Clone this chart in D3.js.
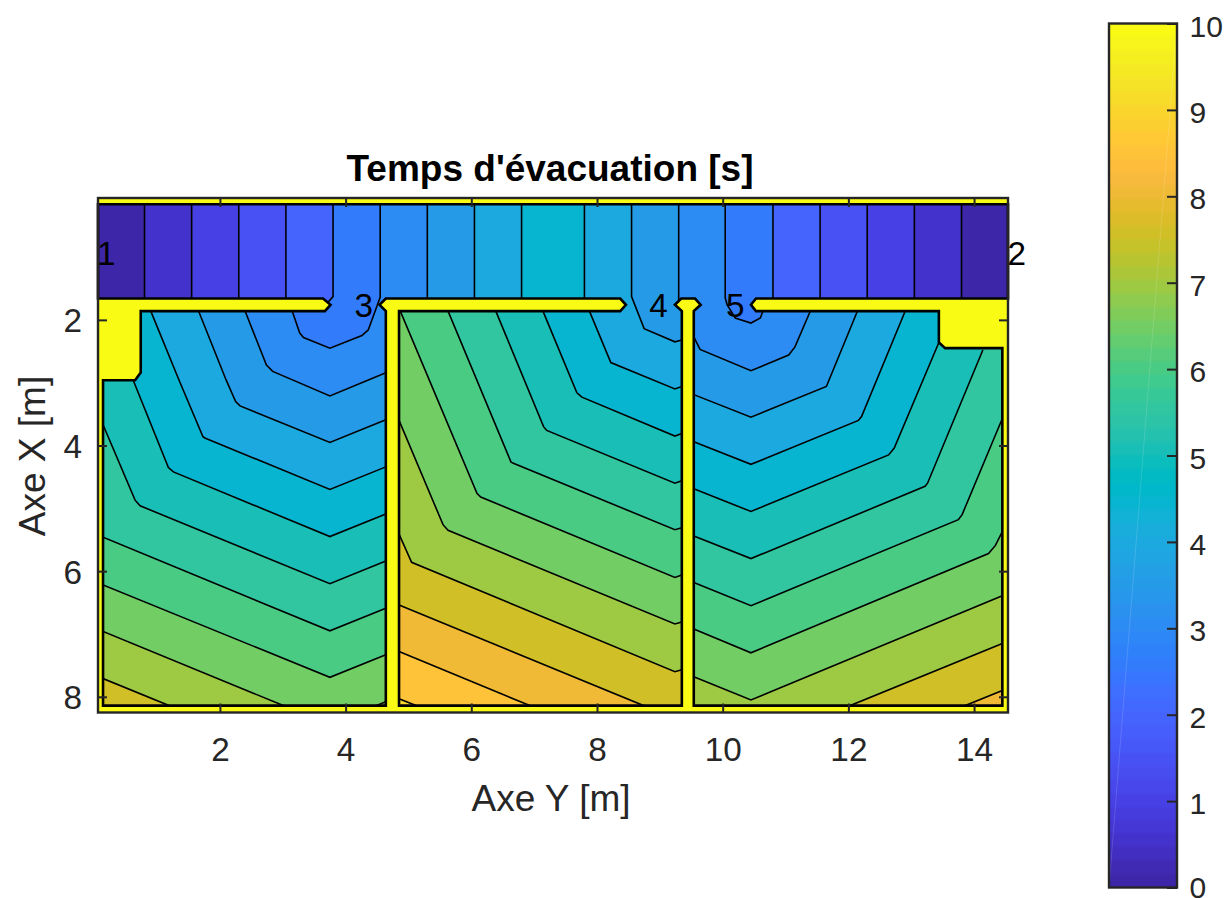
<!DOCTYPE html>
<html>
<head>
<meta charset="utf-8">
<script src="https://cdn.jsdelivr.net/npm/d3@7"></script>
<style>
body{margin:0;background:#fff;}
svg{display:block;font-family:"Liberation Sans",Arial,sans-serif;}
</style>
</head>
<body>
<svg id="chart" width="1227" height="898"></svg>
<script>
//parula, 64 steps
var parula = [[0.2422,0.1504,0.6603],[0.2504,0.1650,0.7076],[0.2578,0.1818,0.7511],[0.2647,0.1978,0.7952],
[0.2706,0.2147,0.8364],[0.2751,0.2342,0.8710],[0.2783,0.2559,0.8991],[0.2803,0.2782,0.9221],
[0.2813,0.3006,0.9414],[0.2810,0.3228,0.9579],[0.2795,0.3447,0.9717],[0.2760,0.3667,0.9829],
[0.2699,0.3892,0.9906],[0.2602,0.4123,0.9952],[0.2440,0.4358,0.9988],[0.2206,0.4603,0.9973],
[0.1963,0.4847,0.9892],[0.1834,0.5074,0.9798],[0.1786,0.5289,0.9682],[0.1764,0.5499,0.9520],
[0.1687,0.5703,0.9359],[0.1540,0.5902,0.9218],[0.1460,0.6091,0.9079],[0.1380,0.6276,0.8973],
[0.1259,0.6459,0.8883],[0.1111,0.6635,0.8763],[0.0953,0.6798,0.8598],[0.0689,0.6948,0.8394],
[0.0297,0.7082,0.8163],[0.0036,0.7203,0.7917],[0.0067,0.7312,0.7660],[0.0433,0.7411,0.7394],
[0.0964,0.7500,0.7120],[0.1408,0.7584,0.6842],[0.1717,0.7670,0.6554],[0.1938,0.7758,0.6251],
[0.2161,0.7843,0.5923],[0.2470,0.7918,0.5567],[0.2906,0.7973,0.5188],[0.3406,0.8008,0.4789],
[0.3909,0.8029,0.4354],[0.4456,0.8024,0.3909],[0.5044,0.7993,0.3480],[0.5616,0.7942,0.3045],
[0.6174,0.7876,0.2612],[0.6720,0.7793,0.2227],[0.7242,0.7698,0.1910],[0.7738,0.7598,0.1646],
[0.8203,0.7498,0.1535],[0.8634,0.7406,0.1596],[0.9035,0.7330,0.1774],[0.9393,0.7288,0.2100],
[0.9728,0.7298,0.2394],[0.9956,0.7434,0.2371],[0.9970,0.7659,0.2199],[0.9952,0.7893,0.2028],
[0.9892,0.8136,0.1885],[0.9786,0.8386,0.1766],[0.9676,0.8639,0.1643],[0.9610,0.8890,0.1537],
[0.9597,0.9135,0.1423],[0.9628,0.9373,0.1265],[0.9691,0.9606,0.1064],[0.9769,0.9839,0.0805]];

var yTicks = [2,4,6,8,10,12,14];
var xTicks = [2,4,6,8];
var barTicks = [0,1,2,3,4,5,6,7,8,9,10];

//door names, [Y, X] in metres
var doorNames = ["1","2","3","4","5"];
var doorPlaces = [[0.19,1.13],[14.68,1.13],[4.29,1.95],[8.98,1.95],[10.20,1.95]];

//walkable area of the building, [Y, X] in metres
var floorPlan = [[0.06,0.16],[14.54,0.16],[14.54,1.66],[10.53,1.66],[10.45,1.76],[10.53,1.86],
[13.44,1.86],[13.44,2.36],[13.54,2.45],[14.45,2.45],[14.45,8.14],[9.54,8.14],[9.54,1.86],
[9.65,1.76],[9.56,1.66],[9.34,1.66],[9.24,1.76],[9.35,1.86],[9.35,8.14],[4.85,8.14],[4.85,1.86],
[8.37,1.86],[8.46,1.76],[8.37,1.66],[4.64,1.66],[4.54,1.76],[4.64,1.86],[4.64,8.14],[0.14,8.14],
[0.14,2.96],[0.65,2.96],[0.74,2.84],[0.74,1.86],[3.67,1.86],[3.76,1.76],[3.64,1.66],[0.06,1.66]];

//isolines that run through the corridor
var spanLevels = [0.5,1,1.5,2,2.5,3,3.5,4,4.5];
var spanLeft = [
[[0.80,0.06],[0.80,1.76]],
[[1.55,0.06],[1.55,1.76]],
[[2.30,0.06],[2.30,1.76]],
[[3.05,0.06],[3.05,1.76]],
[[3.80,0.06],[3.80,1.63],[3.72,1.72]],
[[4.55,0.06],[4.55,1.64],[4.43,1.97],[4.36,2.16],[4.26,2.25],[3.75,2.45],[3.33,2.28],[3.27,2.21],[3.15,1.86],[3.15,1.80]],
[[5.30,0.06],[5.30,1.76]],
[[6.05,0.06],[6.05,1.76]],
[[6.80,0.06],[6.80,1.76]]];
var spanRight = [
[[13.80,1.76],[13.80,0.06]],
[[13.05,1.76],[13.05,0.06]],
[[12.30,1.76],[12.30,0.06]],
[[11.55,1.76],[11.55,0.06]],
[[10.80,1.76],[10.80,0.06]],
[[10.64,1.80],[10.64,1.86],[10.60,1.97],[10.45,2.05],[10.20,1.97],[10.07,1.76],[10.04,1.65],[10.04,0.06]],
[[9.30,1.76],[9.30,0.06]],
[[9.40,2.31],[9.35,2.32],[9.24,2.35],[8.75,2.14],[8.55,1.63],[8.55,0.06]],
[[7.80,1.76],[7.80,0.06]]];
var wide = [[0.09,1.76],[0.09,8.24],[14.53,8.24],[14.53,1.76]];
var spanCorners = [wide,wide,wide,wide,wide,wide,
[[4.74,1.76],[4.74,8.24],[9.45,8.24],[9.45,1.76]],
[[4.74,1.76],[4.74,8.24],[9.45,8.24],[9.45,2.31]],
[]];

//room under door 3
var roomOneLevels = [3.5,4,4.5,5,5.5,6,6.5,7,7.5];
var roomOneLines = [
[[2.40,1.86],[2.74,2.72],[2.84,2.82],[3.75,3.21],[4.64,2.84]],
[[1.66,1.86],[2.10,2.96],[2.25,3.30],[2.32,3.37],[3.75,3.95],[4.64,3.59]],
[[0.90,1.86],[1.35,2.96],[1.73,3.86],[1.76,3.88],[3.75,4.70],[4.64,4.34]],
[[0.62,2.96],[1.18,4.35],[1.26,4.42],[3.75,5.45],[4.64,5.09]],
[[0.14,3.67],[0.65,4.87],[0.73,4.96],[3.75,6.20],[4.64,5.84]],
[[0.14,5.46],[3.75,6.95],[4.64,6.59]],
[[0.14,6.22],[3.75,7.69],[4.64,7.33]],
[[0.14,6.96],[3.01,8.14],[3.01,8.20],[4.49,8.20],[4.49,8.14],[4.64,8.08]],
[[0.14,7.71],[1.19,8.14]]];

//room under door 4
var roomTwoLevels = [4.5,5,5.5,6,6.5,7,7.5,8,8.5,9];
var roomTwoLines = [
[[7.88,1.86],[8.22,2.68],[9.24,3.10],[9.35,3.06]],
[[7.14,1.86],[7.68,3.16],[7.76,3.23],[9.24,3.85],[9.35,3.81]],
[[6.39,1.86],[7.15,3.70],[7.20,3.76],[9.24,4.60],[9.35,4.56]],
[[5.63,1.86],[6.63,4.26],[6.66,4.28],[9.24,5.34],[9.35,5.31]],
[[4.87,1.86],[6.09,4.76],[6.15,4.82],[9.24,6.10],[9.35,6.06]],
[[4.85,3.60],[5.55,5.26],[5.63,5.35],[9.24,6.84],[9.35,6.81]],
[[4.85,5.41],[5.05,5.86],[9.24,7.60],[9.35,7.57]],
[[4.85,6.54],[8.74,8.14]],
[[4.85,7.28],[6.93,8.14]],
[[4.85,8.03],[5.12,8.14]]];

//room under door 5
var roomThreeLevels = [3.5,4,4.5,5,5.5,6,6.5,7,7.5,8];
var roomThreeLines = [
[[9.54,2.27],[9.64,2.47],[10.45,2.81],[11.05,2.56],[11.15,2.43],[11.39,1.87]],
[[9.54,3.19],[10.45,3.55],[11.65,3.06],[12.14,1.87]],
[[9.54,3.94],[10.45,4.30],[12.16,3.60],[12.21,3.54],[12.90,1.87]],
[[9.54,4.69],[10.45,5.05],[12.64,4.15],[12.73,4.04],[13.44,2.36]],
[[9.54,5.44],[10.45,5.80],[13.22,4.65],[13.26,4.60],[14.14,2.48]],
[[9.54,6.18],[10.45,6.55],[13.75,5.18],[13.81,5.10],[14.45,3.57]],
[[9.54,6.92],[10.45,7.30],[14.23,5.72],[14.34,5.59],[14.45,5.37]],
[[9.54,7.68],[10.45,8.05],[14.45,6.39]],
[[12.03,8.14],[14.45,7.15]],
[[13.86,8.14],[14.45,7.90]]];


var svg = d3.select("#chart");

var xScale = d3.scaleLinear().domain([0.06,14.54]).range([98,1008]);
var yScale = d3.scaleLinear().domain([0.06,8.25]).range([198,712.5]);

var colors = parula.map(function(c)
{
    return d3.rgb(c[0]*255,c[1]*255,c[2]*255).formatHex();
});
var levelColor = d3.scaleQuantize().domain([0,10]).range(colors);

var pathGen = d3.line()
    .x(function(p){return xScale(p[0]);})
    .y(function(p){return yScale(p[1]);});

//everything above a level: the isoline, then round the back through the walls
var shapes = [];

spanLevels.forEach(function(level,i)
{
    shapes.push({level:level,
        lines:[spanLeft[i],spanRight[i]],
        area:spanLeft[i].concat(spanCorners[i],spanRight[i])});
});

roomOneLevels.forEach(function(level,i)
{
    var line = roomOneLines[i];
    var first = line[0], last = line[line.length-1];
    shapes.push({level:level,lines:[line],
        area:line.concat([[4.74,last[1]],[4.74,8.24],[0.09,8.24],[0.09,1.76],[first[0],1.76]])});
});

roomTwoLevels.forEach(function(level,i)
{
    var line = roomTwoLines[i];
    var first = line[0], last = line[line.length-1];
    shapes.push({level:level,lines:[line],
        area:line.concat([[9.45,last[1]],[9.45,8.24],[4.74,8.24],[4.74,1.76],[first[0],1.76]])});
});

roomThreeLevels.forEach(function(level,i)
{
    var line = roomThreeLines[i];
    var first = line[0], last = line[line.length-1];
    shapes.push({level:level,lines:[line],
        area:line.concat([[last[0],1.76],[14.53,1.76],[14.53,8.24],[9.45,8.24],[9.45,first[1]]])});
});

shapes.sort(function(a,b){return a.level-b.level;});

var defs = svg.append("defs");

defs.append("clipPath").attr("id","floorClip")
    .append("path").attr("d",pathGen(floorPlan)+"Z");

//walls
svg.append("rect")
    .attr("x",xScale.range()[0]).attr("y",yScale.range()[0])
    .attr("width",xScale.range()[1]-xScale.range()[0])
    .attr("height",yScale.range()[1]-yScale.range()[0])
    .attr("fill",colors[63]);

var floor = svg.append("g").attr("clip-path","url(#floorClip)");

floor.append("path")
    .attr("d",pathGen(floorPlan)+"Z")
    .attr("fill",levelColor(0));

floor.selectAll("path.band")
    .data(shapes)
    .enter()
    .append("path")
    .attr("class","band")
    .attr("d",function(s){return pathGen(s.area)+"Z";})
    .attr("fill",function(s){return levelColor(s.level);});

floor.selectAll("path.iso")
    .data(d3.merge(shapes.map(function(s){return s.lines;})))
    .enter()
    .append("path")
    .attr("class","iso")
    .attr("d",pathGen)
    .attr("fill","none")
    .attr("stroke","#000")
    .attr("stroke-width",1.6);

svg.append("path")
    .attr("d",pathGen(floorPlan)+"Z")
    .attr("fill","none")
    .attr("stroke","#000")
    .attr("stroke-width",2.6)
    .attr("stroke-linejoin","miter");

//axes, ticks point inwards on all four sides
var dark = "#262626";
var tickFont = 33.3;
var barFont = 30;
var labelFont = 37;

var makeAxis = function(axis,dx,dy)
{
    var g = svg.append("g").attr("transform","translate("+dx+","+dy+")").call(axis);
    g.select(".domain").remove();
    g.selectAll(".tick line").attr("stroke",dark).attr("stroke-width",2);
    g.selectAll("text").attr("fill",dark).attr("font-size",tickFont).attr("font-family","inherit");
    return g;
}

var bottomAxis = makeAxis(d3.axisBottom(xScale).tickValues(yTicks).tickSize(-9).tickPadding(0),0,712.5);
bottomAxis.selectAll("text").attr("y",48).attr("dy",0);
var topAxis = makeAxis(d3.axisTop(xScale).tickValues(yTicks).tickSize(-9).tickFormat(""),0,198);
var leftAxis = makeAxis(d3.axisLeft(yScale).tickValues(xTicks).tickSize(-9),98,0);
leftAxis.selectAll("text").attr("x",-16).attr("dy",12);
var rightAxis = makeAxis(d3.axisRight(yScale).tickValues(xTicks).tickSize(-9).tickFormat(""),1008,0);

svg.append("rect")
    .attr("x",98).attr("y",198).attr("width",910).attr("height",514.5)
    .attr("fill","none").attr("stroke",dark).attr("stroke-width",2.4);

svg.selectAll("text.door")
    .data(doorNames)
    .enter()
    .append("text")
    .attr("class","door")
    .attr("x",function(d,i){return xScale(doorPlaces[i][0]);})
    .attr("y",function(d,i){return yScale(doorPlaces[i][1]);})
    .attr("text-anchor","middle")
    .attr("font-size",tickFont)
    .attr("fill","#000")
    .text(function(d){return d;});

svg.append("text")
    .attr("x",550).attr("y",181)
    .attr("text-anchor","middle")
    .attr("font-size",labelFont).attr("font-weight","bold").attr("fill","#000")
    .text("Temps d'évacuation [s]");

svg.append("text")
    .attr("x",551).attr("y",811)
    .attr("text-anchor","middle")
    .attr("font-size",labelFont).attr("fill",dark)
    .text("Axe Y [m]");

svg.append("text")
    .attr("transform","translate(45,456) rotate(-90)")
    .attr("text-anchor","middle")
    .attr("font-size",labelFont).attr("fill",dark)
    .text("Axe X [m]");

//colorbar, steps with soft edges
var barScale = d3.scaleLinear().domain([0,10]).range([887.5,23.5]);

var barGradient = defs.append("linearGradient").attr("id","barGradient")
    .attr("x1",0).attr("y1",1).attr("x2",0).attr("y2",0);

barGradient.selectAll("stop")
    .data(d3.merge(colors.map(function(c,i)
    {
        return [{at:(i+0.2)/64,color:c},{at:(i+0.8)/64,color:c}];
    })))
    .enter()
    .append("stop")
    .attr("offset",function(d){return d.at;})
    .attr("stop-color",function(d){return d.color;});

svg.append("rect")
    .attr("x",1109).attr("width",68)
    .attr("y",barScale(10)).attr("height",barScale(0)-barScale(10))
    .attr("fill","url(#barGradient)");

//thin seam across the bar, corner to corner
svg.append("line")
    .attr("x1",1109).attr("y1",barScale(0))
    .attr("x2",1177).attr("y2",barScale(10))
    .attr("stroke","#fff").attr("stroke-opacity",0.14).attr("stroke-width",1);

var barAxis = makeAxis(d3.axisRight(barScale).tickValues(barTicks).tickSize(-10).tickFormat(d3.format("d")),1177,0);
barAxis.selectAll("text")
    .attr("x",12.5)
    .attr("dy",function(d){return d==0 ? 9.5 : 12.5;})
    .attr("font-size",barFont);

svg.append("rect")
    .attr("x",1109).attr("y",23.5).attr("width",68).attr("height",864)
    .attr("fill","none").attr("stroke",dark).attr("stroke-width",2.4);
</script>
</body>
</html>
